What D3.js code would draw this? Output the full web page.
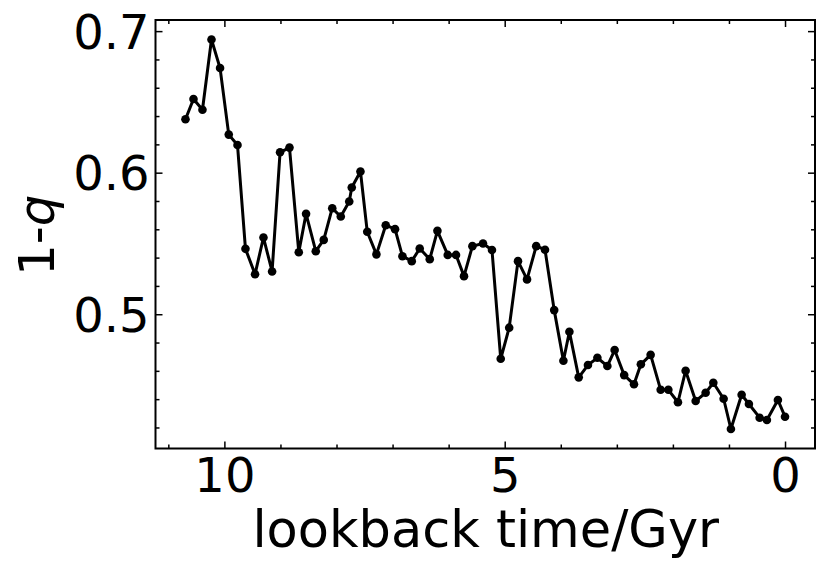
<!DOCTYPE html>
<html>
<head>
<meta charset="utf-8">
<script src="https://cdn.jsdelivr.net/npm/d3@7"></script>
<style>
  html, body { margin: 0; padding: 0; background: #fff; }
  svg { display: block; font-family: "DejaVu Sans", sans-serif; }
</style>
</head>
<body>
<svg id="chart" width="830" height="574"></svg>
<script>
// lookback time (Gyr)
const lookbackTime = [
  10.694, 10.551, 10.391, 10.230, 10.077, 9.922, 9.766, 9.624, 9.453, 9.303,
  9.149, 9.007, 8.839, 8.673, 8.543, 8.370, 8.228, 8.076, 7.924, 7.773,
  7.728, 7.573, 7.452, 7.288, 7.122, 6.956, 6.824, 6.658, 6.516, 6.337,
  6.200, 6.016, 5.868, 5.726, 5.576, 5.387, 5.227, 5.071, 4.920, 4.763,
  4.602, 4.438, 4.281, 4.117, 3.953, 3.846, 3.680, 3.515, 3.347, 3.169,
  3.039, 2.869, 2.694, 2.571, 2.397, 2.218, 2.081, 1.910, 1.773, 1.594,
  1.416, 1.279, 1.095, 0.965, 0.774, 0.644, 0.453, 0.323, 0.127, 0.000
];
// 1-q values
const oneMinusQ = [
  0.6377, 0.6520, 0.6445, 0.6941, 0.6739, 0.6269, 0.6195, 0.5462, 0.5283, 0.5542,
  0.5302, 0.6144, 0.6177, 0.5438, 0.5709, 0.5445, 0.5525, 0.5749, 0.5690, 0.5796,
  0.5895, 0.6008, 0.5583, 0.5423, 0.5629, 0.5601, 0.5410, 0.5375, 0.5464, 0.5389,
  0.5589, 0.5419, 0.5419, 0.5269, 0.5481, 0.5500, 0.5454, 0.4685, 0.4905, 0.5375,
  0.5246, 0.5481, 0.5456, 0.5029, 0.4671, 0.4876, 0.4554, 0.4641, 0.4692, 0.4634,
  0.4747, 0.4570, 0.4505, 0.4646, 0.4713, 0.4466, 0.4466, 0.4378, 0.4601, 0.4387,
  0.4445, 0.4516, 0.4403, 0.4189, 0.4431, 0.4366, 0.4269, 0.4253, 0.4394, 0.4276
];
const xMajorTicks = [10, 5, 0];
const xMinorTicks = [11, 9, 8, 7, 6, 4, 3, 2, 1];
const yMajorTicks = [0.5, 0.6, 0.7];
const yMinorTicks = [0.42, 0.44, 0.46, 0.48, 0.52, 0.54, 0.56, 0.58, 0.62, 0.64, 0.66, 0.68];
const xLabel = "lookback time/Gyr";

const data = lookbackTime.map((t, i) => ({t, v: oneMinusQ[i]}));

const L = 155.5, R = 815, T = 20, B = 448.5;
const svg = d3.select("#chart");

function padded(ext) {
  const m = (ext[1] - ext[0]) * 0.05;
  return [ext[0] - m, ext[1] + m];
}
const xd = padded(d3.extent(lookbackTime));
const yd = padded(d3.extent(oneMinusQ));
const x = d3.scaleLinear().domain([xd[1], xd[0]]).range([L, R]);
const y = d3.scaleLinear().domain(yd).range([B, T]);

const majLen = 7, minLen = 4, tickW = 1.5;
const g = svg.append("g");

// ticks inward on all four sides
function xTicks(vals, len, labels) {
  const bottom = g.append("g").attr("transform", `translate(0,${B})`)
    .call(d3.axisBottom(x).tickValues(vals).tickSizeInner(-len).tickSizeOuter(0)
      .tickPadding(10).tickFormat(labels ? d3.format("d") : ""));
  const top = g.append("g").attr("transform", `translate(0,${T})`)
    .call(d3.axisTop(x).tickValues(vals).tickSizeInner(-len).tickSizeOuter(0).tickFormat(""));
  [bottom, top].forEach(a => {
    a.select(".domain").remove();
    a.selectAll("line").attr("stroke", "#000").attr("stroke-width", tickW);
  });
  bottom.selectAll("text").attr("font-size", 48).attr("fill", "#000")
    .attr("font-family", "DejaVu Sans").attr("y", 43).attr("dy", 0);
}
function yTicks(vals, len, labels) {
  const left = g.append("g").attr("transform", `translate(${L},0)`)
    .call(d3.axisLeft(y).tickValues(vals).tickSizeInner(-len).tickSizeOuter(0)
      .tickPadding(6).tickFormat(labels ? d3.format(".1f") : ""));
  const right = g.append("g").attr("transform", `translate(${R},0)`)
    .call(d3.axisRight(y).tickValues(vals).tickSizeInner(-len).tickSizeOuter(0).tickFormat(""));
  [left, right].forEach(a => {
    a.select(".domain").remove();
    a.selectAll("line").attr("stroke", "#000").attr("stroke-width", tickW);
  });
  left.selectAll("text").attr("font-size", 48).attr("fill", "#000")
    .attr("font-family", "DejaVu Sans").attr("dy", "0.36em");
}
xTicks(xMajorTicks, majLen, true);
xTicks(xMinorTicks, minLen, false);
yTicks(yMajorTicks, majLen, true);
yTicks(yMinorTicks, minLen, false);

// data line and markers
const line = d3.line().x(d => x(d.t)).y(d => y(d.v));
g.append("path").datum(data).attr("d", line)
  .attr("fill", "none").attr("stroke", "#000").attr("stroke-width", 3)
  .attr("stroke-linejoin", "round");
g.append("g").selectAll("circle").data(data).join("circle")
  .attr("cx", d => x(d.t)).attr("cy", d => y(d.v)).attr("r", 4.3).attr("fill", "#000");

// frame
g.append("rect").attr("x", L).attr("y", T).attr("width", R - L).attr("height", B - T)
  .attr("fill", "none").attr("stroke", "#000").attr("stroke-width", 2);

// axis labels
svg.append("text").attr("x", (L + R) / 2 + 0.5).attr("y", 547)
  .attr("text-anchor", "middle").attr("font-size", 51).attr("fill", "#000")
  .text(xLabel);
const yl = svg.append("text")
  .attr("transform", `translate(54,${(T + B) / 2 + 1}) rotate(-90)`)
  .attr("text-anchor", "middle").attr("font-size", 50).attr("fill", "#000");
yl.append("tspan").text("1-");
yl.append("tspan").attr("font-style", "italic").text("q");
</script>
</body>
</html>
